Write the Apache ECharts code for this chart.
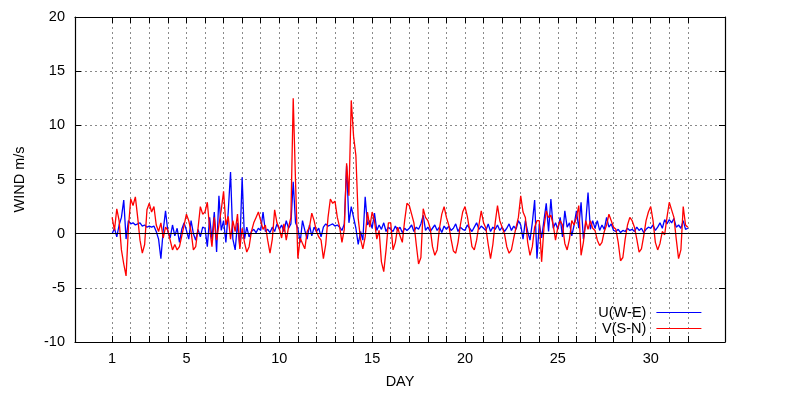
<!DOCTYPE html>
<html>
<head>
<meta charset="utf-8">
<script src="https://cdn.jsdelivr.net/npm/echarts@6/dist/echarts.min.js"></script>
<style>
html,body{margin:0;padding:0;background:#fff;}
#chart{width:795px;height:400px;}
</style>
</head>
<body>
<div id="chart"></div>
<script>
// Sampling: 3-hourly values, day 1 to day 32
const START_DAY = 1;
const STEP_DAYS = 0.125;

// U (W-E) wind component, m/s
const uWE = [
  0.0, 0.5, -0.3, 0.8, 1.5, 3.1, -0.5, 1.2,
  0.9, 1.0, 0.8, 0.9, 1.0, 0.7, 0.8, 0.6,
  0.7, 0.6, 0.7, 0.2, -0.5, -2.3, 0.3, 2.1,
  0.2, -0.4, 0.8, -0.2, 0.5, -0.8, 0.4, 1.0,
  0.3, -0.5, 1.2, 0.0, -0.6, 0.4, -0.3, 0.6,
  0.5, -1.2, 1.5, -0.5, 2.0, -1.7, 3.5, 0.3,
  1.2, -0.8, 2.0, 5.7, -0.5, -1.5, 1.0, -1.2,
  5.2, -0.5, 0.6, -0.3, 0.2, 0.4, 0.1, 0.5,
  0.3, 2.0, 0.2, 0.4, 0.1, 0.6, 0.2, 0.9,
  0.4, 0.8, 0.2, 1.2, 0.5, 0.9, 4.8, 1.0,
  0.5, -0.8, 1.2, 0.3, -0.5, 0.8, -0.2, 0.6,
  0.2, 0.5, -0.3, 0.6, 0.9, 0.7, 0.8, 0.9,
  0.7, 0.8, 0.6, 0.3, 0.9, 6.3, 1.0, 2.5,
  1.5, 0.5, -1.0, 0.2, -0.6, 3.4, 0.8, 1.2,
  0.5, 1.9, 0.3, 0.8, 0.4, 1.0, 0.2, 0.6,
  0.4, 0.2, 0.7, 0.3, 0.6, 0.1, 0.5, 0.3,
  0.5, 0.8, 0.2, 0.6, 0.4, 0.9, 1.7, 0.3,
  0.6, 0.2, 0.5, 0.8, 0.3, 0.6, 0.1, 0.7,
  0.4, 0.7, 0.3, 0.5, 0.9, 0.2, 0.6, 0.4,
  0.3, 0.8, 0.5, 0.2, 0.6, 1.0, 0.4, 0.7,
  0.5, 0.3, 0.9, 0.2, 0.6, 0.4, 0.8, 0.3,
  0.6, 0.2, 0.5, 0.9, 0.3, 0.7, 0.4, 1.2,
  0.8, -0.5, 1.2, 0.2, -0.6, 1.0, 3.1, -2.3,
  0.9, -0.4, 1.2, 2.8, 0.2, 3.2, 0.5, 1.0,
  0.4, 1.5, -0.3, 2.1, 0.6, 1.0, -0.2, 0.8,
  2.1, 0.5, 2.9, -0.5, 1.0, 3.8, 0.4, 1.2,
  0.5, 1.2, 0.3, 0.8, 0.4, 1.5, 0.6, 0.9,
  0.3, 0.2, 0.4, 0.1, 0.3, 0.2, 0.5, 0.3,
  0.4, 0.2, 0.6, 0.3, 0.5, 0.1, 0.4, 0.6,
  0.5, 0.8, 0.3, 0.6, 1.0, 0.5, 1.3, 0.9,
  1.3, 1.0, 1.4, 0.6, 0.8, 0.5, 1.2, 0.4,
  0.5
];

// V (S-N) wind component, m/s
const vSN = [
  1.5, 0.3, 2.3, 1.2, -1.5, -2.8, -3.9, 0.5,
  3.2, 2.6, 3.4, 1.5, -0.6, -1.8, -1.0, 2.2,
  2.8, 2.0, 2.5, 0.8, 0.2, 1.0, -0.4, 0.6,
  0.3, -0.6, -1.5, -1.0, -1.5, -1.2, -0.2, 0.8,
  1.8, 1.2, 0.2, -1.5, -1.2, 0.5, 2.5, 1.8,
  2.0, 2.9, 0.5, -1.2, 1.5, -0.6, 0.8, 2.2,
  3.9, 0.8, 1.6, -0.5, 1.2, 0.2, 1.8, -1.4,
  0.5, -0.8, -1.7, -1.2, 0.2, 1.0, 1.5, 2.0,
  1.2, 0.4, 0.8, -0.6, -1.8, -0.5, 2.2, 1.0,
  0.5, -0.4, 0.9, -0.6, 0.6, 1.5, 12.5, 4.8,
  -2.3, -0.4, -0.9, -1.4, 0.2, 0.6, 1.9, 1.2,
  0.2, -0.3, -0.6, -2.3, -1.0, 1.5, 3.2, 2.8,
  3.0, 1.5, 0.6, -0.8, 0.4, 6.5, 3.5, 12.3,
  9.0, 7.2, 1.4, -0.5, -1.4, -0.3, 2.0, 0.6,
  2.0, 1.2, -0.5, 0.3, -2.6, -3.5, -1.5, 1.0,
  1.0, -1.5, -0.8, 0.6, -0.2, -0.8, 1.2, 2.8,
  2.6, 1.8, 1.0, -1.0, -2.8, -2.2, 2.3, 1.5,
  1.2, 0.5, -1.2, -2.0, -1.5, 0.5, 1.8, 2.5,
  1.5, 0.8, -0.5, -1.6, -1.8, -0.8, 0.8, 2.0,
  2.5, 1.6, 0.3, -1.2, -1.5, -0.6, 0.8, 2.1,
  1.0, 0.5, -1.0, -2.3, -1.0, 1.0, 2.6, 1.2,
  0.6, 0.0, -1.2, -1.8, -1.5, -0.4, 0.6, 1.5,
  3.5, 2.0, 1.5, -0.8, -2.0, -1.2, 0.6, 1.2,
  1.2, -2.6, 0.5, 2.1, 1.5, 1.7, 0.8, -0.6,
  0.6, 1.2, 0.8, -0.9, -1.5, -0.5, 1.2, 0.8,
  1.5, 2.6, -2.0, -0.8, 1.2, 0.4, 1.2, 0.5,
  0.3, -0.6, -1.1, -0.8, 0.2, 0.8, 1.8, 1.2,
  0.6, 0.4, -0.8, -2.5, -2.2, -0.5, 0.8, 1.5,
  1.2, 0.6, -0.5, -1.7, -1.4, -0.2, 1.2, 2.0,
  2.5, 1.2, -0.8, -1.5, -0.9, 0.2, -0.1, 1.5,
  2.9, 2.2, 1.5, -0.5, -2.3, -1.5, 2.5, 0.8,
  0.6
];

// Axis ticks
const dayTicks = [1,2,3,4,5,6,7,8,9,10,11,12,13,14,15,16,17,18,19,20,21,22,23,24,25,26,27,28,29,30,31,32];
const dayLabels = [1, 5, 10, 15, 20, 25, 30];
const seriesNames = ['U(W-E)', 'V(S-N)'];

const toPairs = arr => arr.map((v, i) => [START_DAY + i * STEP_DAYS, v]);

const FONT = 'Liberation Sans, Arial, sans-serif';
const FS = 14.5;

const chart = echarts.init(document.getElementById('chart'), null, {renderer: 'canvas'});
const gridLine = {show: true, lineStyle: {color: '#8a8a8a', type: [2, 3], width: 1}};
const frame = {show: true, onZero: false, lineStyle: {color: '#000', width: 1.2}};

chart.setOption({
  animation: false,
  backgroundColor: '#fff',
  grid: {left: 75, right: 70, top: 17, bottom: 58, containLabel: false},
  legend: {
    data: seriesNames,
    orient: 'vertical',
    right: 88,
    top: 300,
    align: 'right',
    itemWidth: 45,
    itemHeight: 12,
    itemGap: 1,
    itemStyle: {opacity: 0},
    lineStyle: {width: 1.2},
    textStyle: {fontFamily: FONT, fontSize: FS, color: '#000', padding: [0, 5, 0, 0]}
  },
  xAxis: [
    {
      type: 'value', min: -1, max: 34, position: 'bottom',
      name: 'DAY', nameLocation: 'middle', nameGap: 32,
      nameTextStyle: {fontFamily: FONT, fontSize: FS, color: '#000'},
      axisLine: frame,
      axisTick: {show: true, inside: true, length: 6, customValues: dayTicks, lineStyle: {color: '#000'}},
      axisLabel: {show: true, customValues: dayLabels, margin: 9, fontFamily: FONT, fontSize: FS, color: '#000'},
      splitLine: gridLine
    },
    {
      type: 'value', min: -1, max: 34, position: 'top',
      axisLine: frame,
      axisTick: {show: true, inside: true, length: 6, customValues: dayTicks, lineStyle: {color: '#000'}},
      axisLabel: {show: false},
      splitLine: {show: false}
    }
  ],
  yAxis: [
    {
      type: 'value', min: -10, max: 20, interval: 5, position: 'left',
      name: 'WIND m/s', nameLocation: 'middle', nameGap: 48, nameRotate: 90,
      nameTextStyle: {fontFamily: FONT, fontSize: FS, color: '#000'},
      axisLine: frame,
      axisTick: {show: true, inside: true, length: 6, lineStyle: {color: '#000'}},
      axisLabel: {show: true, margin: 10, fontFamily: FONT, fontSize: FS, color: '#000'},
      splitLine: gridLine
    },
    {
      type: 'value', min: -10, max: 20, interval: 5, position: 'right',
      axisLine: frame,
      axisTick: {show: true, inside: true, length: 6, lineStyle: {color: '#000'}},
      axisLabel: {show: false},
      splitLine: {show: false}
    }
  ],
  series: [
    {
      name: seriesNames[0], type: 'line', xAxisIndex: 0, yAxisIndex: 0,
      data: toPairs(uWE), showSymbol: false, symbol: 'none',
      color: '#0000ff',
      lineStyle: {color: '#0000ff', width: 1.3}, itemStyle: {color: '#0000ff'},
      markLine: {
        silent: true, symbol: 'none', label: {show: false},
        lineStyle: {color: '#000', type: 'solid', width: 1.2},
        data: [{yAxis: 0}]
      }
    },
    {
      name: seriesNames[1], type: 'line', xAxisIndex: 0, yAxisIndex: 0,
      data: toPairs(vSN), showSymbol: false, symbol: 'none',
      color: '#ff0000',
      lineStyle: {color: '#ff0000', width: 1.3}, itemStyle: {color: '#ff0000'}
    }
  ]
});
</script>
</body>
</html>
